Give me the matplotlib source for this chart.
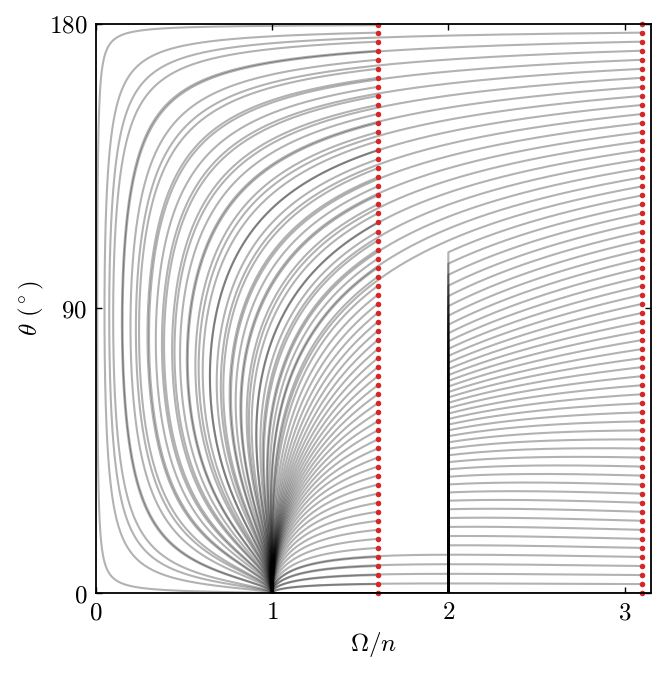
import numpy as np
import matplotlib
matplotlib.use("Agg")
import matplotlib.pyplot as plt

plt.rcParams['mathtext.fontset'] = 'cm'
plt.rcParams['font.family'] = ['DejaVu Serif']

# ---- data: initial conditions (red dots) ----
x_start_left = 1.6
x_start_right = 3.1
theta0_right = [0.0, 2.86, 5.71, 8.57, 11.43, 14.29, 17.14, 20.0, 22.86, 25.71,
                28.57, 31.43, 34.29, 37.14, 40.0, 42.86, 45.71, 48.57, 51.43,
                54.29, 57.14, 60.0, 62.86, 65.71, 68.57, 71.43, 74.29, 77.14,
                80.0, 82.86, 85.71, 88.57, 91.43, 94.29, 97.14, 100.0, 102.86,
                105.71, 108.57, 111.43, 114.29, 117.14, 120.0, 122.86, 125.71,
                128.57, 131.43, 134.29, 137.14, 140.0, 142.86, 145.71, 148.57,
                151.43, 154.29, 157.14, 160.0, 162.86, 165.71, 168.57, 171.43,
                174.29, 177.14, 180.0]
theta0_left = theta0_right[:-1] + [179.5]
# band of obliquities (at Omega/n = 2) whose tracks collapse along Omega/n = 2
collapse_band = (13.0, 109.0)
x_collapse = 2.0
fixed_point = (1.0, 0.0)

xticks = [0, 1, 2, 3]
yticks = [0, 90, 180]
xlim = (0, 3.15)
ylim = (0, 180)


def flow(x, th):
    c = np.cos(th)
    s = np.sin(th)
    fx = c - 0.5 * (1 + c * c) * x
    ft = s / x * (0.5 * c * x - 1.0)
    return fx, ft


def direction(x, th):
    fx, ft = flow(x, th)
    ux = fx / 3.15
    ut = ft / np.pi
    n = np.hypot(ux, ut) + 1e-300
    return ux / n * 3.15, ut / n * np.pi


def integrate(x0, th0_deg, ds=0.0012, nmax=6000):
    x0 = np.asarray(x0, float)
    th = np.radians(np.asarray(th0_deg, float))
    x = x0.copy()
    xs = [x.copy()]
    ts = [th.copy()]
    active = np.ones_like(x, bool)
    for _ in range(nmax):
        k1 = direction(x, th)
        k2 = direction(x + 0.5 * ds * k1[0], th + 0.5 * ds * k1[1])
        k3 = direction(x + 0.5 * ds * k2[0], th + 0.5 * ds * k2[1])
        k4 = direction(x + ds * k3[0], th + ds * k3[1])
        dx = ds / 6 * (k1[0] + 2 * k2[0] + 2 * k3[0] + k4[0])
        dt = ds / 6 * (k1[1] + 2 * k2[1] + 2 * k3[1] + k4[1])
        x = np.where(active, x + dx, x)
        th = np.where(active, th + dt, th)
        d = np.hypot((x - 1) / 3.15, th / np.pi)
        active &= (d > 0.0015) & (x > 1e-4) & np.isfinite(x) & np.isfinite(th)
        xs.append(x.copy())
        ts.append(th.copy())
        if not active.any():
            break
    return np.array(xs).T, np.degrees(np.array(ts)).T


fig = plt.figure(figsize=(6.65, 6.74), dpi=100)
ax = fig.add_axes([0.144, 0.120, 0.835, 0.845])

line_kw = dict(color='k', alpha=0.3, lw=1.5, solid_capstyle='butt')

# left set
XL, TL = integrate(np.full(len(theta0_left), x_start_left), theta0_left)
for xs, ts in zip(XL, TL):
    ax.plot(xs, ts, **line_kw)

# right set
XR, TR = integrate(np.full(len(theta0_right), x_start_right), theta0_right)
for xs, ts in zip(XR, TR):
    idx = np.argmax(xs <= x_collapse)
    if xs[idx] <= x_collapse and collapse_band[0] < ts[idx] < collapse_band[1]:
        px = list(xs[:idx]) + [x_collapse, x_collapse, fixed_point[0]]
        pt = list(ts[:idx]) + [ts[idx], 0.0, 0.0]
        ax.plot(px, pt, **line_kw)
    else:
        ax.plot(xs, ts, **line_kw)

ax.plot([fixed_point[0]], [fixed_point[1]], 'o', color='#1f77b4', ms=3, zorder=1.5)

ax.plot(np.full(len(theta0_left), x_start_left), theta0_left, 'o',
        color='#d62728', ms=4.0, mew=0, zorder=5, clip_on=False)
ax.plot(np.full(len(theta0_right), x_start_right), theta0_right, 'o',
        color='#d62728', ms=4.0, mew=0, zorder=5, clip_on=False)

ax.set_xlim(*xlim)
ax.set_ylim(*ylim)
ax.set_xticks(xticks)
ax.set_yticks(yticks)
ax.set_xticklabels([f'${v}$' for v in xticks], fontsize=18)
ax.set_yticklabels([f'${v}$' for v in yticks], fontsize=18)
ax.tick_params(direction='in', top=True, right=True, length=4.5, width=1.0, pad=6)
for sp in ax.spines.values():
    sp.set_linewidth(1.3)
    sp.set_zorder(6)
ax.set_xlabel(r'$\Omega/n$', fontsize=18, labelpad=4)
ax.set_ylabel(r'$\theta\ (^\circ)$', fontsize=18, labelpad=2)

fig.savefig('out.png', dpi=100)
